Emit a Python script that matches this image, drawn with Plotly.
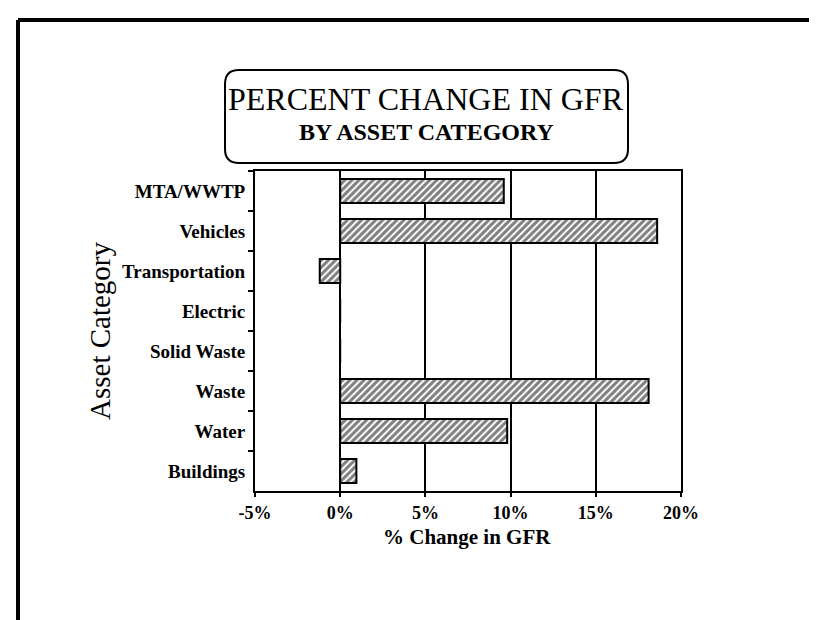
import plotly.graph_objects as go

# ---- data ----
categories = ["MTA/WWTP", "Vehicles", "Transportation", "Electric",
              "Solid Waste", "Waste", "Water", "Buildings"]
pct_change = [9.6, 18.6, -1.2, 0.0, 0.0, 18.1, 9.8, 0.95]
x_tickvals = [-5, 0, 5, 10, 15, 20]
x_ticktext = ["-5%", "0%", "5%", "10%", "15%", "20%"]
title_line1 = "PERCENT CHANGE IN GFR"
title_line2 = "BY ASSET CATEGORY"
x_title = "% Change in GFR"
y_title = "Asset Category"

# ---- geometry helpers (pixel -> paper) ----
W, H = 817, 620
L, R, T, B = 247, 144, 163, 137
PW, PH = W - L - R, H - T - B


def px(x):
    return (x - L) / PW


def py(y):
    return (H - B - y) / PH


SERIF = "Liberation Serif, Times New Roman, serif"

fig = go.Figure()
fig.add_trace(go.Bar(
    y=categories, x=pct_change, orientation="h", width=0.6,
    marker=dict(color="white",
                line=dict(color="black", width=2),
                pattern=dict(shape="/", fgcolor="black", bgcolor="white",
                             size=5, solidity=0.6)),
    showlegend=False,
))

fig.update_layout(
    width=W, height=H,
    margin=dict(l=L, r=R, t=T, b=B, pad=0),
    paper_bgcolor="white", plot_bgcolor="white",
    font=dict(family=SERIF, color="black"),
    xaxis=dict(range=[-5, 20], tickvals=x_tickvals, ticktext=x_ticktext,
               showgrid=True, gridcolor="black", gridwidth=2,
               zeroline=False, showline=True, linecolor="black",
               linewidth=2, mirror=True, ticks="outside", ticklen=4,
               tickwidth=2, tickcolor="black",
               tickfont=dict(family=SERIF, size=18, color="black",
                             weight="bold")),
    yaxis=dict(categoryorder="array", categoryarray=categories,
               autorange="reversed", showgrid=False, zeroline=False,
               showline=True, linecolor="black", linewidth=2, mirror=True,
               ticks="outside", ticklen=5, tickwidth=2, tickcolor="black",
               tickson="boundaries", ticklabelstandoff=4,
               tickfont=dict(family=SERIF, size=19, color="black",
                             weight="bold")),
)

# title box (rounded rectangle)
bx0, bx1, by0, by1, rr = 217, 620, 62, 155, 14
path = (f"M {px(bx0 + rr)},{py(by0)} L {px(bx1 - rr)},{py(by0)} "
        f"Q {px(bx1)},{py(by0)} {px(bx1)},{py(by0 + rr)} "
        f"L {px(bx1)},{py(by1 - rr)} "
        f"Q {px(bx1)},{py(by1)} {px(bx1 - rr)},{py(by1)} "
        f"L {px(bx0 + rr)},{py(by1)} "
        f"Q {px(bx0)},{py(by1)} {px(bx0)},{py(by1 - rr)} "
        f"L {px(bx0)},{py(by0 + rr)} "
        f"Q {px(bx0)},{py(by0)} {px(bx0 + rr)},{py(by0)} Z")
fig.add_shape(type="path", path=path, xref="paper", yref="paper",
              line=dict(color="black", width=2), fillcolor="white")

# outer page frame (left and top edges)
fig.add_shape(type="line", xref="paper", yref="paper",
              x0=px(10), x1=px(10), y0=py(12), y1=py(H + 5),
              line=dict(color="black", width=4))
fig.add_shape(type="line", xref="paper", yref="paper",
              x0=px(10), x1=px(W + 5), y0=py(12), y1=py(12),
              line=dict(color="black", width=4))

# titles
fig.add_annotation(text=title_line1, xref="paper", yref="paper",
                   x=px(418), y=py(91), xanchor="center", yanchor="middle",
                   showarrow=False, font=dict(family=SERIF, size=32))
fig.add_annotation(text=title_line2, xref="paper", yref="paper",
                   x=px(418), y=py(124), xanchor="center", yanchor="middle",
                   showarrow=False,
                   font=dict(family=SERIF, size=24, weight="bold"))
fig.add_annotation(text=x_title, xref="paper", yref="paper",
                   x=px(459), y=py(529), xanchor="center", yanchor="middle",
                   showarrow=False,
                   font=dict(family=SERIF, size=21, weight="bold"))
fig.add_annotation(text=y_title, xref="paper", yref="paper",
                   x=px(92), y=py(323), xanchor="center", yanchor="middle",
                   textangle=-90, showarrow=False,
                   font=dict(family=SERIF, size=29))

fig.write_html("out.html")
